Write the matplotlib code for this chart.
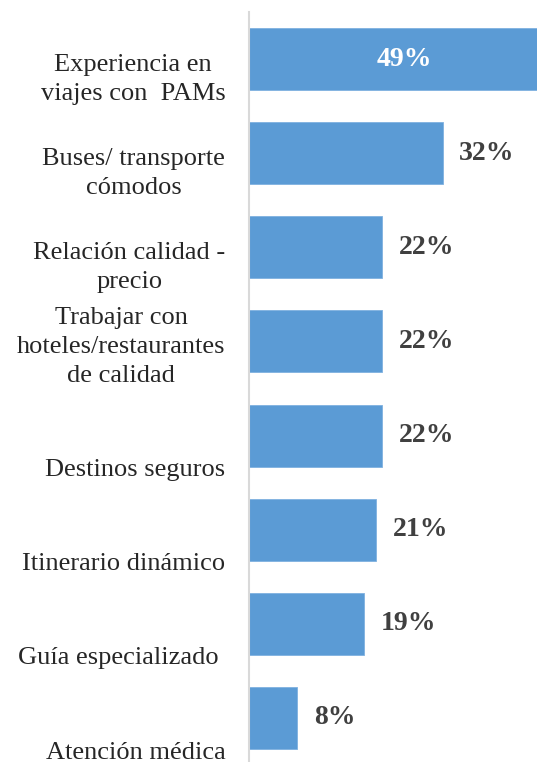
import matplotlib.pyplot as plt

categories = ['Experiencia en\nviajes con  PAMs', 'Buses/ transporte\ncómodos',
              'Relación calidad -\nprecio', 'Trabajar con\nhoteles/restaurantes\nde calidad',
              'Destinos seguros', 'Itinerario dinámico', 'Guía especializado ',
              'Atención médica']
values = [49, 32, 22, 22, 22, 21, 19, 8]
value_labels = ['49%', '32%', '22%', '22%', '22%', '21%', '19%', '8%']

plt.rcParams['font.family'] = ['Liberation Serif', 'DejaVu Serif']

fig = plt.figure(figsize=(5.37, 7.62), dpi=100)
ax = fig.add_axes([249/537, -3/762, 288/537, 753/762])

y = list(range(len(values)))
ax.barh(y, values, height=0.66, color='#5b9bd5', edgecolor='#7fb1e0', linewidth=0.6)
ax.set_xlim(0, 288/6.06)
ax.set_ylim(len(values) - 0.5, -0.5)

for i, (v, lab) in enumerate(zip(values, value_labels)):
    if i == 0:
        ax.text(v / 2 + 1.1, i, lab, ha='center', va='center', color='white',
                fontsize=20, fontweight='bold')
    else:
        ax.text(v + 2.7, i, lab, ha='left', va='center', color='#404040',
                fontsize=20, fontweight='bold')

# category labels sit low, bottom-aligned like the original export
for i, cat in enumerate(categories):
    ax.text(-3.9, i + 0.485, cat, ha='right', va='bottom', multialignment='center',
            fontsize=19, color='#262626', linespacing=1.42, clip_on=False)

ax.set_xticks([])
ax.set_yticks([])
for s in ['top', 'right', 'bottom']:
    ax.spines[s].set_visible(False)
ax.spines['left'].set_color('#d9d9d9')
ax.spines['left'].set_linewidth(1.5)

fig.savefig('out.png', dpi=100)
